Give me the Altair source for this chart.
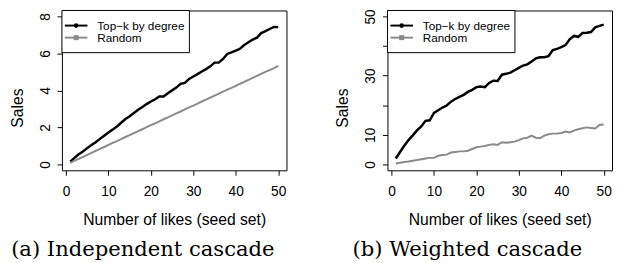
import altair as alt
import pandas as pd

# ---- data ----
likes = list(range(1, 51))

ic_topk = [0.15, 0.35, 0.55, 0.70, 0.88, 1.05, 1.20, 1.38, 1.55, 1.72,
           1.88, 2.05, 2.25, 2.45, 2.60, 2.78, 2.95, 3.10, 3.26, 3.40,
           3.52, 3.67, 3.67, 3.85, 4.00, 4.15, 4.35, 4.40, 4.62, 4.75,
           4.88, 5.02, 5.15, 5.30, 5.50, 5.50, 5.70, 5.97, 6.05, 6.15,
           6.25, 6.45, 6.60, 6.75, 6.85, 7.10, 7.20, 7.32, 7.43, 7.42]
ic_random = [0.08, 0.20, 0.30, 0.41, 0.52, 0.62, 0.73, 0.84, 0.94, 1.05,
             1.16, 1.26, 1.37, 1.48, 1.58, 1.69, 1.80, 1.90, 2.01, 2.12,
             2.22, 2.33, 2.44, 2.54, 2.65, 2.76, 2.86, 2.97, 3.08, 3.18,
             3.29, 3.40, 3.50, 3.61, 3.72, 3.82, 3.93, 4.04, 4.14, 4.25,
             4.36, 4.46, 4.57, 4.68, 4.78, 4.89, 5.00, 5.10, 5.21, 5.33]

wc_topk = [2.0, 4.2, 6.3, 8.2, 9.8, 11.5, 12.8, 14.7, 14.9, 17.4,
           18.3, 19.2, 19.9, 21.2, 22.1, 22.8, 23.5, 24.5, 25.2, 26.1,
           26.3, 26.1, 27.5, 28.3, 28.2, 30.3, 30.6, 31.0, 31.8, 32.6,
           33.4, 33.8, 34.8, 35.8, 36.2, 36.2, 36.6, 38.6, 39.0, 39.6,
           40.3, 42.3, 43.4, 43.1, 44.4, 44.5, 44.7, 46.3, 46.8, 47.2]
wc_random = [0.3, 0.55, 0.8, 1.0, 1.25, 1.5, 1.75, 2.0, 2.2, 2.2,
             2.9, 3.2, 3.3, 4.0, 4.2, 4.4, 4.4, 4.6, 5.2, 5.8,
             6.0, 6.2, 6.6, 6.8, 6.6, 7.5, 7.3, 7.5, 7.7, 8.2,
             8.8, 9.0, 9.7, 9.0, 8.8, 9.7, 10.2, 10.4, 10.4, 10.6,
             11.1, 10.8, 11.4, 11.9, 12.2, 12.5, 12.3, 12.1, 13.3, 13.5]

series_names = ["Top\u2212k by degree", "Random"]
series_colors = ["#000000", "#8a8a8a"]
line_widths = [2.5, 2.0]
marker_shapes = ["circle", "square"]
marker_sizes = [22, 26]

x_ticks = [0, 10, 20, 30, 40, 50]
ic_yticks = [0, 2, 4, 6, 8]
wc_yticks = [0, 10, 20, 30, 40, 50]
wc_hidden = [20, 40]

x_title = "Number of likes (seed set)"
y_title = "Sales"
captions = ["(a) Independent cascade", "(b) Weighted cascade"]

x_domain = [-0.96, 51.96]
ic_ydomain = [-0.32, 8.32]
wc_ydomain = [-2.0, 52.0]

W, H = 229, 163
AXFONT = "Liberation Sans"

# legend box layout (pixels inside the plot area)
LEG_W, LEG_H = 130, 43
LEG_ROW0, LEG_STEP = 15.4, 12.3
LEG_LINE_X, LEG_LINE_X2, LEG_MARK_X, LEG_TEXT_X = 3, 26, 14.5, 36


def legend_layers():
    layers = [
        alt.Chart(pd.DataFrame({"box": [0]})).mark_rect(
            fill="white", stroke="black", strokeWidth=1
        ).encode(x=alt.value(0), x2=alt.value(LEG_W), y=alt.value(0), y2=alt.value(LEG_H))
    ]
    for i, (name, col, shp, sz, lw) in enumerate(
            zip(series_names, series_colors, marker_shapes, marker_sizes, line_widths)):
        yy = LEG_ROW0 + LEG_STEP * i
        d = pd.DataFrame({"label": [name]})
        layers.append(alt.Chart(d).mark_rule(color=col, strokeWidth=2).encode(
            x=alt.value(LEG_LINE_X), x2=alt.value(LEG_LINE_X2), y=alt.value(yy)))
        layers.append(alt.Chart(d).mark_point(filled=True, shape=shp, size=sz, color=col, opacity=1).encode(
            x=alt.value(LEG_MARK_X), y=alt.value(yy)))
        layers.append(alt.Chart(d).mark_text(align="left", baseline="middle", font=AXFONT,
                                             fontSize=12, color="black").encode(
            x=alt.value(LEG_TEXT_X), y=alt.value(yy), text="label:N"))
    return layers


def make_panel(topk, rand, y_ticks, y_domain, hidden, caption, cap_dx):
    series = [series_names[0]] * len(likes) + [series_names[1]] * len(likes)
    df = pd.DataFrame({
        "likes": likes + likes,
        "sales": topk + rand,
        "series": series,
    })
    x = alt.X(
        "likes:Q",
        scale=alt.Scale(domain=x_domain, nice=False, zero=False),
        axis=alt.Axis(values=x_ticks, title=x_title, labelBaseline="alphabetic",
                      labelPadding=21, titleX=W / 2, titleY=55,
                      titleAlign="center", titleBaseline="alphabetic"),
    )
    if hidden:
        cond = " || ".join(f"datum.value == {h}" for h in hidden)
        lexpr = f"({cond}) ? '' : datum.label"
    else:
        lexpr = "datum.label"
    y = alt.Y(
        "sales:Q",
        scale=alt.Scale(domain=y_domain, nice=False, zero=False),
        axis=alt.Axis(values=y_ticks, title=y_title, labelAngle=270,
                      labelAlign="center", labelBaseline="alphabetic",
                      labelPadding=8, labelExpr=lexpr,
                      titleAngle=270, titleX=-40.7, titleY=99,
                      titleAlign="center", titleBaseline="alphabetic"),
    )
    lines = alt.Chart(df).mark_line().encode(
        x=x, y=y,
        color=alt.Color("series:N", scale=alt.Scale(domain=series_names, range=series_colors), legend=None),
        strokeWidth=alt.StrokeWidth("series:N", scale=alt.Scale(domain=series_names, range=line_widths), legend=None),
    )
    return alt.layer(lines, *legend_layers()).properties(
        width=W, height=H,
        title=alt.TitleParams(caption, orient="bottom", anchor="middle", frame="group",
                              dx=cap_dx, font="DejaVu Serif", fontSize=21.5,
                              fontWeight="normal", color="black", offset=12),
    )


p1 = make_panel(ic_topk, ic_random, ic_yticks, ic_ydomain, [], captions[0], -32)
p2 = make_panel(wc_topk, wc_random, wc_yticks, wc_ydomain, wc_hidden, captions[1], -33)

chart = alt.hconcat(p1, p2, spacing=47).resolve_scale(
    color="independent", strokeWidth="independent"
).properties(
    padding={"left": 0, "top": -3, "right": 0, "bottom": 0}
).configure_view(stroke="black", strokeWidth=1).configure_axis(
    grid=False, domain=False, tickColor="black", tickSize=5, tickWidth=1,
    labelFont=AXFONT, labelFontSize=14, labelColor="black",
    titleFont=AXFONT, titleFontSize=16, titleFontWeight="normal", titleColor="black",
)

chart.save("out.html", embed_options={"renderer": "svg", "actions": False})
